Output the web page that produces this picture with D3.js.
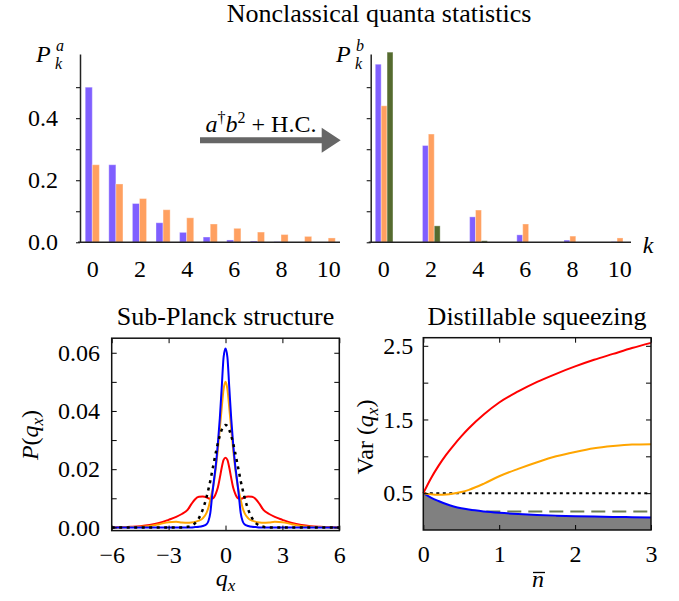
<!DOCTYPE html>
<html>
<head>
<meta charset="utf-8">
<script src="https://cdnjs.cloudflare.com/ajax/libs/d3/7.8.5/d3.min.js"></script>
<style>
  body { margin: 0; background: #fff; }
  svg text { fill: #000; }
  .it { font-style: italic; }
</style>
</head>
<body>
<div id="chart"></div>
<script>
// top row: photon number distributions
var kA = [0, 1, 2, 3, 4, 5, 6, 7, 8, 9, 10]
var pA_blue = [0.5, 0.25, 0.125, 0.063, 0.032, 0.017, 0.0075, 0.004, 0.002, 0.001, 0.0005]
var pA_orange = [0.25, 0.188, 0.141, 0.105, 0.079, 0.059, 0.045, 0.033, 0.025, 0.019, 0.014]

var kB = [0, 2, 4, 6, 8, 10]
var pB_blue = [0.574, 0.312, 0.082, 0.024, 0.007, 0.002]
var pB_orange = [0.44, 0.349, 0.104, 0.059, 0.02, 0.014]
var pB_green = [0.613, 0.053, 0.005, 0.0005, 0, 0]

// bottom left: quadrature distributions
var qx = [-6, -5, -4.5, -4, -3.5, -3, -2.6, -2.3, -2, -1.8, -1.6, -1.4, -1.2, -1, -0.9, -0.8, -0.7, -0.6, -0.5, -0.4, -0.3, -0.2, -0.1,
  0, 0.1, 0.2, 0.3, 0.4, 0.5, 0.6, 0.7, 0.8, 0.9, 1, 1.2, 1.4, 1.6, 1.8, 2, 2.3, 2.6, 3, 3.5, 4, 4.5, 5, 6]
var pq_red = [0, 0.0002, 0.0004, 0.0008, 0.0015, 0.0026, 0.0036, 0.0046, 0.006, 0.008, 0.0097, 0.0105, 0.0106, 0.0103, 0.01, 0.0098, 0.0099, 0.0104, 0.0118, 0.0138, 0.017, 0.0205, 0.0232,
  0.0239, 0.0232, 0.0205, 0.017, 0.0138, 0.0118, 0.0104, 0.0099, 0.0098, 0.01, 0.0103, 0.0106, 0.0105, 0.0097, 0.008, 0.006, 0.0046, 0.0036, 0.0026, 0.0015, 0.0008, 0.0004, 0.0002, 0]
var pq_orange = [0, 0.0001, 0.0002, 0.0005, 0.0011, 0.0018, 0.0019, 0.0017, 0.0016, 0.0017, 0.0019, 0.0023, 0.0031, 0.005, 0.0068, 0.0095, 0.0125, 0.016, 0.021, 0.027, 0.034, 0.041, 0.0475,
  0.05, 0.0475, 0.041, 0.034, 0.027, 0.021, 0.016, 0.0125, 0.0095, 0.0068, 0.005, 0.0031, 0.0023, 0.0019, 0.0017, 0.0016, 0.0017, 0.0019, 0.0018, 0.0011, 0.0005, 0.0002, 0.0001, 0]
var pq_blue = [0, 0, 0, 0, 0, 0, 0, 0, 0, 0, 0.0001, 0.0002, 0.0005, 0.0011, 0.0022, 0.005, 0.0112, 0.0167, 0.022, 0.029, 0.0375, 0.048, 0.0585,
  0.0615, 0.0585, 0.048, 0.0375, 0.029, 0.022, 0.0167, 0.0112, 0.005, 0.0022, 0.0011, 0.0005, 0.0002, 0.0001, 0, 0, 0, 0, 0, 0, 0, 0, 0, 0]
var pq_black = [0, 0, 0, 0, 0, 0, 0, 0, 0.0002, 0.0006, 0.0015, 0.0032, 0.0061, 0.0104, 0.0131, 0.016, 0.0194, 0.0227, 0.026, 0.029, 0.0315, 0.0335, 0.0348,
  0.0352, 0.0348, 0.0335, 0.0315, 0.029, 0.026, 0.0227, 0.0194, 0.016, 0.0131, 0.0104, 0.0061, 0.0032, 0.0015, 0.0006, 0.0002, 0, 0, 0, 0, 0, 0, 0, 0]

// bottom right: variance against mean photon number
var nbar = [0, 0.1, 0.2, 0.3, 0.4, 0.5, 0.6, 0.8, 1, 1.25, 1.5, 1.75, 2, 2.25, 2.5, 2.75, 3]
var var_red = [0.5, 0.7, 0.87, 1.02, 1.15, 1.27, 1.38, 1.57, 1.73, 1.88, 2.01, 2.12, 2.22, 2.31, 2.39, 2.47, 2.54]
var var_orange = [0.5, 0.485, 0.478, 0.481, 0.494, 0.515, 0.545, 0.63, 0.73, 0.83, 0.92, 1.0, 1.06, 1.11, 1.14, 1.16, 1.165]
var var_blue = [0.5, 0.44, 0.393, 0.352, 0.32, 0.295, 0.277, 0.252, 0.234, 0.217, 0.204, 0.195, 0.188, 0.182, 0.177, 0.174, 0.171]
var vacuumLevel = 0.5
var gaussLevel = 0.25

// ticks
var barTicksX = [0, 2, 4, 6, 8, 10]
var barTicksY = [0, 0.1, 0.2, 0.3, 0.4, 0.5]
var barLabelsY = ['0.0', '', '0.2', '', '0.4', '']
var qTicksX = [-6, -3, 0, 3, 6]
var qLabelsX = ['\u22126', '\u22123', '0', '3', '6']
var qTicksY = [0, 0.01, 0.02, 0.03, 0.04, 0.05, 0.06]
var qLabelsY = ['0.00', '', '0.02', '', '0.04', '', '0.06']
var nTicksX = [0, 1, 2, 3]
var nLabelsX = ['0', '1', '2', '3']
var vTicksY = [0.5, 1, 1.5, 2, 2.5]
var vLabelsY = ['0.5', '', '1.5', '', '2.5']

var colBlueBar = '#7f5fff'
var colOrangeBar = '#ffa060'
var colGreenBar = '#556b2f'

var serif = "'Liberation Serif', 'DejaVu Serif', 'Noto Serif', serif"
var fontSize = 24
var titleSize = 26

var svg = d3.select('#chart')
  .append('svg')
  .attr('width', 679)
  .attr('height', 601)
  .style('font-family', serif)

function styleAxis (g) {
  g.attr('font-size', fontSize).attr('font-family', null).attr('color', '#000')
  g.selectAll('.tick line').attr('stroke-width', 1)
}

// ---------- top row ----------
var yBar = d3.scaleLinear().domain([0, 0.607]).range([242.3, 54])
var xBarA = d3.scaleLinear().domain([-0.5, 10.5]).range([80.5, 340])
var xBarB = d3.scaleLinear().domain([-0.5, 10.5]).range([371.5, 631])

function barAxes (x, left, showLabels) {
  var gy = svg.append('g')
    .attr('transform', `translate(${left}, 0)`)
    .call(d3.axisLeft(yBar).tickValues(barTicksY).tickSize(4).tickSizeOuter(0).tickPadding(18)
      .tickFormat((d, i) => showLabels ? barLabelsY[i] : ''))
  styleAxis(gy)
  gy.select('.domain').attr('stroke-width', 1.5).attr('stroke', '#222')

  var gx = svg.append('g')
    .attr('transform', `translate(0, ${yBar(0)})`)
    .call(d3.axisBottom(x).tickValues(barTicksX).tickSize(0).tickSizeOuter(0).tickPadding(18))
  styleAxis(gx)
  gx.select('.domain').attr('stroke-width', 1.5).attr('stroke', '#222')
    .attr('d', `M${left - 2},0H${x.range()[1]}`)
}

function bars (x, ks, vals, offset, width, color) {
  svg.append('g').selectAll('rect')
    .data(vals)
    .enter()
    .append('rect')
    .attr('x', (d, i) => x(ks[i] + offset))
    .attr('width', (d, i) => x(ks[i] + offset + width) - x(ks[i] + offset))
    .attr('y', d => yBar(d))
    .attr('height', d => yBar(0) - yBar(d))
    .attr('fill', color)
    .attr('stroke', 'rgba(255,255,255,0.35)')
    .attr('stroke-width', 1)
}

bars(xBarA, kA, pA_blue, -0.3, 0.3, colBlueBar)
bars(xBarA, kA, pA_orange, 0, 0.3, colOrangeBar)
bars(xBarB, kB, pB_blue, -0.34, 0.25, colBlueBar)
bars(xBarB, kB, pB_orange, -0.09, 0.25, colOrangeBar)
bars(xBarB, kB, pB_green, 0.16, 0.25, colGreenBar)

barAxes(xBarA, 80, true)
barAxes(xBarB, 370.7, false)

// title
svg.append('text')
  .attr('x', 379).attr('y', 22)
  .attr('text-anchor', 'middle')
  .attr('font-size', titleSize)
  .text('Nonclassical quanta statistics')

// P_k^a and P_k^b labels, scripts set just right of the P
function pLabel (x, sup) {
  svg.append('text').attr('class', 'it').attr('x', x).attr('y', 62).attr('font-size', fontSize).text('P')
  svg.append('text').attr('class', 'it').attr('x', x + 20).attr('y', 51).attr('font-size', 16).text(sup)
  svg.append('text').attr('class', 'it').attr('x', x + 19).attr('y', 69).attr('font-size', 16).text('k')
}
pLabel(36, 'a')
pLabel(336, 'b')

svg.append('text').attr('class', 'it')
  .attr('x', 648).attr('y', 253)
  .attr('text-anchor', 'middle')
  .attr('font-size', fontSize)
  .text('k')

// arrow between the two bar panels
var arrow = [[200, 137.3], [321.7, 137.3], [321.7, 127.7], [340.7, 140.3], [321.7, 152.7], [321.7, 143.3], [200, 143.3]]
svg.append('path')
  .attr('d', d3.line()(arrow) + 'Z')
  .attr('fill', '#666')

var arrowText = svg.append('text')
  .attr('x', 261).attr('y', 132)
  .attr('text-anchor', 'middle')
  .attr('font-size', fontSize)
arrowText.append('tspan').attr('class', 'it').text('a')
arrowText.append('tspan').attr('font-size', 16).attr('dy', -9).text('\u2020')
arrowText.append('tspan').attr('class', 'it').attr('dy', 9).text('b')
arrowText.append('tspan').attr('font-size', 16).attr('dy', -9).text('2')
arrowText.append('tspan').attr('dy', 9).text(' + H.C.')

// ---------- framed panels ----------
function frame (x, y, xTicks, xLabels, yTicks, yLabels, yPad) {
  var x0 = x.range()[0]
  var x1 = x.range()[1]
  var y0 = y.range()[0]
  var y1 = y.range()[1]

  var gb = svg.append('g').attr('transform', `translate(0, ${y0})`)
    .call(d3.axisBottom(x).tickValues(xTicks).tickSize(-5).tickSizeOuter(0).tickPadding(15)
      .tickFormat((d, i) => xLabels[i]))
  var gt = svg.append('g').attr('transform', `translate(0, ${y1})`)
    .call(d3.axisTop(x).tickValues(xTicks).tickSize(-5).tickSizeOuter(0).tickFormat(''))
  var gl = svg.append('g').attr('transform', `translate(${x0}, 0)`)
    .call(d3.axisLeft(y).tickValues(yTicks).tickSize(-5).tickSizeOuter(0).tickPadding(yPad)
      .tickFormat((d, i) => yLabels[i]))
  var gr = svg.append('g').attr('transform', `translate(${x1}, 0)`)
    .call(d3.axisRight(y).tickValues(yTicks).tickSize(-5).tickSizeOuter(0).tickFormat(''))
  ;[gb, gt, gl, gr].forEach(function (g) {
    styleAxis(g)
    g.select('.domain').remove()
  })

  svg.append('rect')
    .attr('x', x0).attr('y', y1)
    .attr('width', x1 - x0).attr('height', y0 - y1)
    .attr('fill', 'none')
    .attr('stroke', '#111')
    .attr('stroke-width', 1.5)
}

// bottom left
var xQ = d3.scaleLinear().domain([-6, 6]).range([111.7, 339.3])
var yQ = d3.scaleLinear().domain([-0.0011, 0.065]).range([530.6, 338.2])

var lineQ = d3.line()
  .x((d, i) => xQ(qx[i]))
  .y(d => yQ(d))
  .curve(d3.curveMonotoneX)

svg.append('path').attr('d', lineQ(pq_red)).attr('fill', 'none').attr('stroke', '#ff0000').attr('stroke-width', 2)
svg.append('path').attr('d', lineQ(pq_orange)).attr('fill', 'none').attr('stroke', '#ffa500').attr('stroke-width', 2)
svg.append('path').attr('d', lineQ(pq_blue)).attr('fill', 'none').attr('stroke', '#0000ff').attr('stroke-width', 2)
svg.append('path').attr('d', lineQ(pq_black)).attr('fill', 'none').attr('stroke', '#000')
  .attr('stroke-width', 2.5).attr('stroke-dasharray', '3,4.5')

frame(xQ, yQ, qTicksX, qLabelsX, qTicksY, qLabelsY, 11.7)

svg.append('text')
  .attr('x', 225.5).attr('y', 325)
  .attr('text-anchor', 'middle')
  .attr('font-size', titleSize)
  .text('Sub-Planck structure')

var yLabQ = svg.append('text')
  .attr('transform', 'translate(38, 435) rotate(-90)')
  .attr('text-anchor', 'middle')
  .attr('font-size', fontSize)
yLabQ.append('tspan').attr('class', 'it').text('P')
yLabQ.append('tspan').text('(')
yLabQ.append('tspan').attr('class', 'it').text('q')
yLabQ.append('tspan').attr('class', 'it').attr('font-size', 17).attr('dy', 5).text('x')
yLabQ.append('tspan').attr('dy', -5).text(')')

var xLabQ = svg.append('text')
  .attr('x', 225.5).attr('y', 586)
  .attr('text-anchor', 'middle')
  .attr('font-size', fontSize)
xLabQ.append('tspan').attr('class', 'it').text('q')
xLabQ.append('tspan').attr('class', 'it').attr('font-size', 17).attr('dy', 5).text('x')

// bottom right
var xN = d3.scaleLinear().domain([0, 3]).range([423.3, 651])
var yV = d3.scaleLinear().domain([0, 2.61]).range([530, 337.7])

var lineN = d3.line()
  .x((d, i) => xN(nbar[i]))
  .y(d => yV(d))
  .curve(d3.curveMonotoneX)

svg.append('line')
  .attr('x1', xN(0)).attr('x2', xN(3))
  .attr('y1', yV(gaussLevel)).attr('y2', yV(gaussLevel))
  .attr('stroke', '#6b7c52').attr('stroke-width', 2).attr('stroke-dasharray', '14,7')

svg.append('path')
  .attr('d', d3.area()
    .x((d, i) => xN(nbar[i]))
    .y0(yV(0))
    .y1(d => yV(d))
    .curve(d3.curveMonotoneX)(var_blue))
  .attr('fill', '#808080')

svg.append('line')
  .attr('x1', xN(0)).attr('x2', xN(3))
  .attr('y1', yV(vacuumLevel)).attr('y2', yV(vacuumLevel))
  .attr('stroke', '#000').attr('stroke-width', 2).attr('stroke-dasharray', '3,3.5')

svg.append('path').attr('d', lineN(var_blue)).attr('fill', 'none').attr('stroke', '#0000ff').attr('stroke-width', 2)
svg.append('path').attr('d', lineN(var_orange)).attr('fill', 'none').attr('stroke', '#ffa500').attr('stroke-width', 2)
svg.append('path').attr('d', lineN(var_red)).attr('fill', 'none').attr('stroke', '#ff0000').attr('stroke-width', 2)

frame(xN, yV, nTicksX, nLabelsX, vTicksY, vLabelsY, 10)

svg.append('text')
  .attr('x', 537).attr('y', 325)
  .attr('text-anchor', 'middle')
  .attr('font-size', titleSize)
  .text('Distillable squeezing')

var yLabV = svg.append('text')
  .attr('transform', 'translate(373, 437) rotate(-90)')
  .attr('text-anchor', 'middle')
  .attr('font-size', fontSize)
yLabV.append('tspan').text('Var (')
yLabV.append('tspan').attr('class', 'it').text('q')
yLabV.append('tspan').attr('class', 'it').attr('font-size', 17).attr('dy', 5).text('x')
yLabV.append('tspan').attr('dy', -5).text(')')

// n with a bar on top
svg.append('text').attr('class', 'it')
  .attr('x', 538).attr('y', 587)
  .attr('text-anchor', 'middle')
  .attr('font-size', fontSize)
  .text('n')
svg.append('line')
  .attr('x1', 533).attr('x2', 545)
  .attr('y1', 572.5).attr('y2', 572.5)
  .attr('stroke', '#000').attr('stroke-width', 1.3)
</script>
</body>
</html>
